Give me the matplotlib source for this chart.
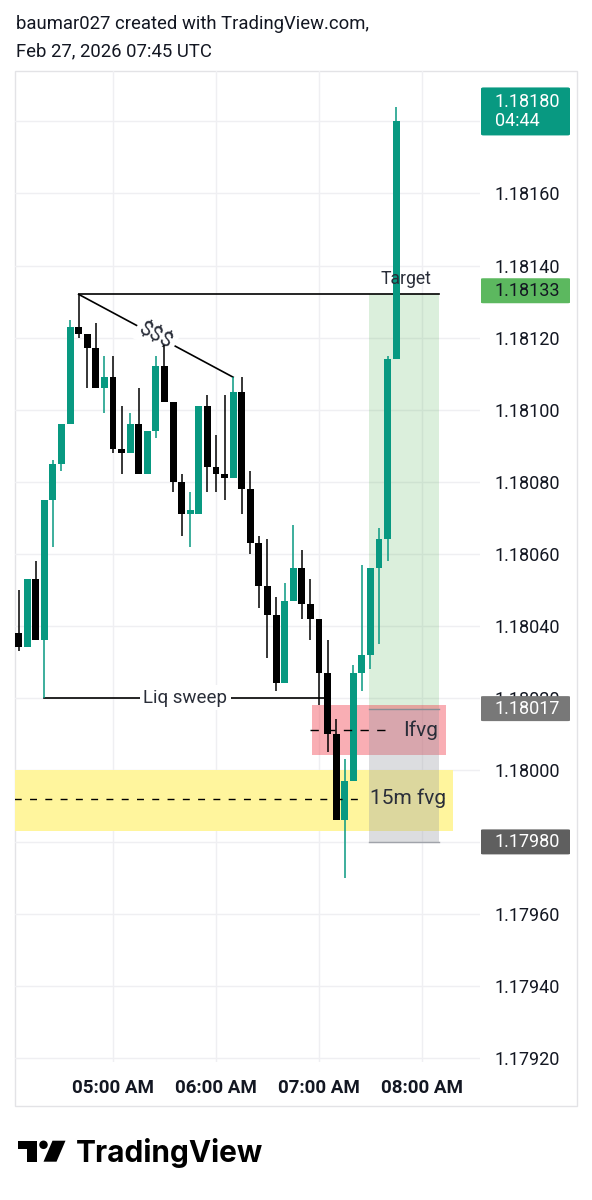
import matplotlib
matplotlib.use("Agg")
import matplotlib.pyplot as plt
import matplotlib.dates as mdates
import matplotlib.patches as mpatches
import matplotlib.transforms as mtrans
import numpy as np
import pandas as pd

# ---------------- data ----------------
times = pd.date_range("2026-02-27 04:05", periods=45, freq="5min")
opens = [1.18038, 1.18034, 1.18053, 1.18036, 1.18075, 1.18085, 1.18096, 1.18123, 1.18121, 1.18117,
         1.18106, 1.18109, 1.18089, 1.18088, 1.18096, 1.18082, 1.18094, 1.18112, 1.18102, 1.18080,
         1.18071, 1.18071, 1.18101, 1.18084, 1.18082, 1.18081, 1.18105, 1.18078, 1.18063, 1.18051,
         1.18043, 1.18024, 1.18047, 1.18056, 1.18046, 1.18042, 1.18027, 1.18010, 1.17986, 1.17997,
         1.18027, 1.18032, 1.18056, 1.18064, 1.18114]
highs = [1.18050, 1.18053, 1.18058, 1.18075, 1.18086, 1.18096, 1.18125, 1.18132, 1.18121, 1.18124,
         1.18115, 1.18115, 1.18101, 1.18099, 1.18106, 1.18094, 1.18115, 1.18118, 1.18102, 1.18082,
         1.18077, 1.18101, 1.18104, 1.18093, 1.18104, 1.18109, 1.18109, 1.18083, 1.18065, 1.18064,
         1.18048, 1.18052, 1.18068, 1.18061, 1.18053, 1.18042, 1.18036, 1.18014, 1.18003, 1.18029,
         1.18057, 1.18056, 1.18067, 1.18115, 1.18184]
lows = [1.18033, 1.18034, 1.18036, 1.18020, 1.18062, 1.18083, 1.18096, 1.18120, 1.18106, 1.18106,
        1.18099, 1.18088, 1.18082, 1.18088, 1.18082, 1.18082, 1.18092, 1.18102, 1.18077, 1.18065,
        1.18062, 1.18071, 1.18077, 1.18077, 1.18075, 1.18081, 1.18071, 1.18060, 1.18045, 1.18031,
        1.18022, 1.18024, 1.18047, 1.18042, 1.18036, 1.18018, 1.18005, 1.17986, 1.17970, 1.17997,
        1.18022, 1.18028, 1.18035, 1.18058, 1.18114]
closes = [1.18034, 1.18053, 1.18036, 1.18075, 1.18085, 1.18096, 1.18123, 1.18121, 1.18117, 1.18106,
          1.18109, 1.18089, 1.18088, 1.18096, 1.18082, 1.18094, 1.18112, 1.18102, 1.18080, 1.18071,
          1.18072, 1.18101, 1.18084, 1.18082, 1.18081, 1.18105, 1.18078, 1.18063, 1.18051, 1.18043,
          1.18024, 1.18047, 1.18056, 1.18046, 1.18042, 1.18027, 1.18010, 1.17986, 1.17997, 1.18027,
          1.18032, 1.18056, 1.18064, 1.18114, 1.18180]

price_ticks = [1.17920, 1.17940, 1.17960, 1.17980, 1.18000, 1.18020, 1.18040,
               1.18060, 1.18080, 1.18100, 1.18120, 1.18140, 1.18160, 1.18180]
time_ticks = ["2026-02-27 05:00", "2026-02-27 06:00", "2026-02-27 07:00", "2026-02-27 08:00"]

last_price = 1.18180
countdown = "04:44"
target_price = 1.18132
target_label = 1.18133
entry_price = 1.18017
stop_price = 1.17980
sweep_price = 1.18020
ss_end_price = 1.18109
ifvg_top, ifvg_bot, ifvg_mid = 1.18018, 1.18004, 1.18011
fvg_top, fvg_bot, fvg_mid = 1.18000, 1.17983, 1.17992

t = lambda s: mdates.date2num(pd.Timestamp("2026-02-27 " + s))

# ---------------- figure ----------------
W, H = 592, 1200
fig = plt.figure(figsize=(W / 100, H / 100), dpi=100)
fig.patch.set_facecolor("white")
FONT = ["Roboto", "DejaVu Sans"]
TXT = "#131722"

pane_top, pane_bot, pane_left, pane_right = 71, 1062, 15, 480
ax = fig.add_axes([pane_left / W, 1 - pane_bot / H, (pane_right - pane_left) / W,
                   (pane_bot - pane_top) / H])
ax.set_facecolor("none")
ymin, ymax = 1.179189, 1.181940
ax.set_ylim(ymin, ymax)
ax.set_xlim(t("04:02:55"), t("08:33:48"))
for s in ax.spines.values():
    s.set_visible(False)

# grid + ticks
ax.set_yticks(price_ticks)
ax.yaxis.set_major_formatter(matplotlib.ticker.FuncFormatter(
    lambda v, p: "" if abs(v - last_price) < 1e-7 else f"{v:.5f}"))
ax.yaxis.tick_right()
ax.tick_params(axis="y", length=0, pad=15 * 0.72, labelsize=13, labelcolor=TXT)
ax.set_xticks([mdates.date2num(pd.Timestamp(s)) for s in time_ticks])
ax.xaxis.set_major_formatter(mdates.DateFormatter("%I:%M %p"))
ax.tick_params(axis="x", length=0, pad=12, labelsize=13.5, labelcolor=TXT)
for lab in ax.get_xticklabels() + ax.get_yticklabels():
    lab.set_family(FONT)
for lab in ax.get_xticklabels():
    lab.set_fontweight("semibold")
ax.grid(True, color="#efeff2", lw=1, zorder=0)
ax.set_axisbelow(True)

# px -> data height
dpp = (ymax - ymin) / (pane_bot - pane_top)

# ---------------- drawings (below candles) ----------------
# yellow 15m fvg box
ax.add_patch(mpatches.Rectangle((t("03:40"), fvg_bot), t("08:18") - t("03:40"), fvg_top - fvg_bot,
                                fc="#fff59d", ec="none", zorder=1))
# long position tool
ax.add_patch(mpatches.Rectangle((t("07:29"), entry_price), t("08:10") - t("07:29"),
                                target_price - entry_price, fc="#4caf50", alpha=0.2, ec="none", zorder=1.2))
ax.add_patch(mpatches.Rectangle((t("07:29"), stop_price), t("08:10") - t("07:29"),
                                entry_price - stop_price, fc="#9598a1", alpha=0.32, ec="none", zorder=1.6))
# red ifvg box
ax.add_patch(mpatches.Rectangle((t("06:56"), ifvg_bot), t("08:14") - t("06:56"), ifvg_top - ifvg_bot,
                                fc="#f23645", alpha=0.4, ec="none", zorder=1.4))
ax.plot([t("07:29"), t("08:10")], [entry_price, entry_price], color="#8a8d96", lw=1, zorder=1.7)
ax.plot([t("07:29"), t("08:10")], [stop_price, stop_price], color="#a0a3aa", lw=1, zorder=1.7)

# dashed mid-lines
ax.plot([t("06:55"), t("07:40")], [ifvg_mid, ifvg_mid], color="black", lw=1,
        dashes=(6, 6), zorder=5)
ax.plot([t("03:40"), t("07:24")], [fvg_mid, fvg_mid], color="black", lw=1,
        dashes=(5, 6), zorder=5)
ax.text(t("07:49"), ifvg_mid, "Ifvg", fontsize=15, color="#2a2e39", va="center", ha="left",
        family=FONT, zorder=6)
ax.text(t("07:30"), fvg_mid, "15m fvg", fontsize=15, color="#2a2e39", va="center", ha="left",
        family=FONT, zorder=6)

# target line
ax.plot([t("04:40"), t("08:10")], [target_price, target_price], color="black", lw=1.2, zorder=2)
ax.text(t("07:50:40"), target_price + 6 * dpp, "Target", fontsize=12.7, color="#2a2e39",
        ha="center", va="bottom", family=FONT, zorder=6)

# $$$ line
x0, x1 = t("04:40"), t("06:10")
ax.plot([x0, x1], [target_price, ss_end_price], color="black", lw=1.2, zorder=2)
p0 = ax.transData.transform((x0, target_price))
p1 = ax.transData.transform((x1, ss_end_price))
ang = np.degrees(np.arctan2(p1[1] - p0[1], p1[0] - p0[0]))
ax.text((x0 + x1) / 2, (target_price + ss_end_price) / 2, "$$$", fontsize=15, color="#2a2e39",
        rotation=ang, rotation_mode="anchor", ha="center", va="center", family=FONT, zorder=2.5,
        bbox=dict(fc="white", ec="none", pad=2.5))

# liquidity sweep line
ax.plot([t("04:20"), t("07:03:30")], [sweep_price, sweep_price], color="black", lw=1.2, zorder=2)
ax.text(t("05:42"), sweep_price, "Liq sweep", fontsize=13.5, color="#2a2e39", ha="center",
        va="center", family=FONT, zorder=2.5, bbox=dict(fc="white", ec="none", pad=2.5))

# ---------------- candles ----------------
x = mdates.date2num(times)
o, h, l, c = map(np.array, (opens, highs, lows, closes))
cols = np.where(c >= o, "#089981", "#000000")
ax.vlines(x, l, h, colors=cols, lw=1.1, zorder=3)
bottoms = np.minimum(o, c)
heights = np.maximum(np.abs(c - o), 1.2 * dpp)
ax.bar(x, heights, bottom=bottoms, width=5 / 1440 * 0.8, color=cols, zorder=4, linewidth=0)

# ---------------- price labels on the scale ----------------
ptrans = mtrans.blended_transform_factory(fig.transFigure, ax.transData)


def price_box(price, text, fc, tc, h_px=25, y_shift_px=0):
    hh = h_px * dpp
    yc = price - y_shift_px * dpp
    box = mpatches.FancyBboxPatch((481 / W, yc - hh / 2), 89 / W, hh,
                                  boxstyle="round,pad=0,rounding_size=0.004",
                                  transform=ptrans, fc=fc, ec="none", zorder=10, clip_on=False,
                                  mutation_aspect=hh / (89 / W))
    ax.add_patch(box)
    ax.text(495 / W, yc, text, transform=ptrans, fontsize=13, color=tc, va="center", ha="left",
            family=FONT, zorder=11, clip_on=False, linespacing=1.05)


price_box(last_price, f"{last_price:.5f}\n{countdown}", "#089981", "white", h_px=48, y_shift_px=-10)
price_box(target_label, f"{target_label:.5f}", "#5cb85f", TXT)
price_box(entry_price, f"{entry_price:.5f}", "#787878", "white")
price_box(stop_price, f"{stop_price:.5f}", "#5f5f5f", "white")

# ---------------- frame ----------------
frame = mpatches.Rectangle((15 / W, 1 - 1106 / H), 562 / W, (1106 - pane_top) / H,
                           transform=fig.transFigure, fill=False, ec="#e3e3e6", lw=1, zorder=0)
fig.add_artist(frame)

# ---------------- header ----------------
fig.text(16 / W, 1 - 29 / H, "baumar027 created with TradingView.com,", fontsize=13.3,
         color=TXT, family=FONT, va="baseline", ha="left")
fig.text(16 / W, 1 - 56 / H, "Feb 27, 2026 07:45 UTC", fontsize=13.3,
         color=TXT, family=FONT, va="baseline", ha="left")

# ---------------- logo ----------------
def P(xp, yp):
    return (xp / W, 1 - yp / H)


logo_col = "#000000"
fig.add_artist(mpatches.Polygon([P(18.3, 1140.7), P(36.7, 1140.7), P(36.7, 1161.7), P(26.7, 1161.7),
                                 P(26.7, 1149), P(18.3, 1149)], closed=True, fc=logo_col, ec="none",
                                transform=fig.transFigure))
fig.add_artist(mpatches.Ellipse(P(43.5, 1144.8), 8.5 / W, 8.5 / H, fc=logo_col, ec="none",
                                transform=fig.transFigure))
fig.add_artist(mpatches.Polygon([P(52.5, 1140.7), P(65.5, 1140.7), P(56.5, 1161.7), P(43.5, 1161.7)],
                                closed=True, fc=logo_col, ec="none", transform=fig.transFigure))
fig.text(76 / W, 1 - 1161.7 / H, "TradingView", fontsize=21.5, fontweight="bold", color=logo_col,
         family=["Inter", "DejaVu Sans"], va="baseline", ha="left")

fig.savefig("out.png", dpi=100, facecolor="white")
